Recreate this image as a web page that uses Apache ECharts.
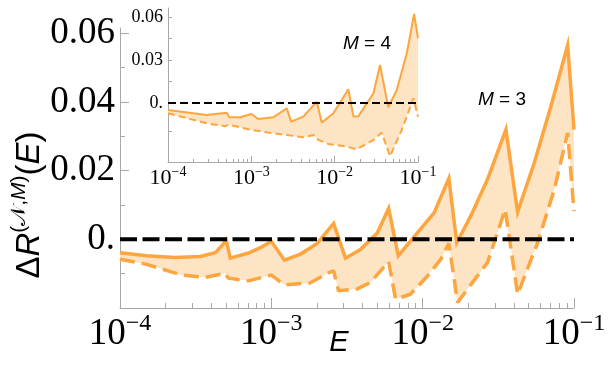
<!DOCTYPE html>
<html>
<head>
<meta charset="utf-8">
<script src="https://cdn.jsdelivr.net/npm/echarts@6/dist/echarts.min.js"></script>
<style>
html, body { margin: 0; padding: 0; background: #fff; }
#main { width: 612px; height: 365px; }
</style>
</head>
<body>
<div id="main"></div>
<script>
// main panel, M = 3 : upper (solid) and lower (dashed) bound
var mainUpperE = [1e-4, 1.5e-4, 2.3e-4, 3.4e-4, 4.26e-4, 4.71e-4, 5.03e-4, 5.35e-4, 7.07e-4, 8.67e-4, 1.0e-3,
    1.22e-3, 1.56e-3, 2.01e-3, 2.58e-3, 3.09e-3, 3.88e-3, 5.01e-3, 5.96e-3, 6.9e-3, 9.22e-3, 1.19e-2, 1.49e-2,
    1.68e-2, 2.08e-2, 2.68e-2, 3.55e-2, 4.24e-2, 5.46e-2, 7.04e-2, 9.08e-2, 1e-1];
var mainUpperV = [-0.0039, -0.0048, -0.0053, -0.0050, -0.0039, -0.0019, -0.0002, -0.0055, -0.0040, -0.0022, -0.0006,
    -0.0061, -0.0043, -0.0012, 0.0046, -0.0055, -0.0030, 0.0018, 0.0090, -0.0048, 0.0019, 0.0077, 0.0177,
    -0.0010, 0.0068, 0.0174, 0.0319, 0.0079, 0.0222, 0.0387, 0.0565, 0.0319];
var mainLowerE = [1e-4, 1.5e-4, 2.56e-4, 3.66e-4, 4.96e-4, 5.19e-4, 7.03e-4, 1e-3, 1.22e-3, 1.8e-3, 2.4e-3, 2.58e-3,
    2.78e-3, 3.67e-3, 4.5e-3, 5.96e-3, 6.62e-3, 8.3e-3, 1.08e-2, 1.32e-2, 1.49e-2, 1.7e-2, 2.08e-2, 2.68e-2, 3.51e-2,
    4.24e-2, 5.75e-2, 7.41e-2, 9.08e-2, 1e-1];
var mainLowerV = [-0.0058, -0.0073, -0.0104, -0.0111, -0.0099, -0.0113, -0.0121, -0.0104, -0.0133, -0.0127, -0.0097, -0.0092,
    -0.0150, -0.0145, -0.0126, -0.0065, -0.0174, -0.0160, -0.0106, -0.0058, -0.0012, -0.0184, -0.0132, -0.0068, 0.0087,
    -0.0160, -0.0010, 0.0145, 0.0310, 0.0082];

// inset, M = 4
var insetUpperE = [1e-4, 2.92e-4, 5.07e-4, 5.44e-4, 7.32e-4, 1.01e-3, 1.21e-3, 1.84e-3, 2.66e-3, 3.0e-3, 4.21e-3,
    6.1e-3, 7.0e-3, 9.64e-3, 1.46e-2, 1.68e-2, 1.93e-2, 2.92e-2, 3.5e-2, 4.4e-2, 5.56e-2, 7.34e-2, 8.98e-2, 1e-1];
var insetUpperV = [-0.0049, -0.0084, -0.0068, -0.0100, -0.0100, -0.0077, -0.0112, -0.0100, -0.0037, -0.0130, -0.0095,
    0.0009, -0.0137, -0.0072, 0.0096, -0.0095, -0.0092, 0.0068, 0.0265, -0.0030, 0.0091, 0.0347, 0.0621, 0.0452];
var insetLowerE = [1e-4, 2.92e-4, 4.9e-4, 5.3e-4, 1.01e-3, 1.84e-3, 2.66e-3, 4.21e-3, 5.55e-3, 6.37e-3, 8.4e-3,
    1.4e-2, 1.84e-2, 2.92e-2, 3.67e-2, 4.62e-2, 6.39e-2, 8.81e-2, 1e-1];
var insetLowerV = [-0.0072, -0.0142, -0.0162, -0.0152, -0.0188, -0.0212, -0.0223, -0.0240, -0.0223, -0.0258, -0.0286,
    -0.0305, -0.0323, -0.0258, -0.0207, -0.0372, -0.0188, 0.0033, -0.0096];

var zeroE = [1e-4, 1e-1];
var zeroV = [0, 0];

// tick values
var mainYLabels = [0, 0.02, 0.04, 0.06];
var mainYMinor = [-0.01, 0.01, 0.03, 0.05];
var insetYLabels = [0, 0.03, 0.06];
var insetYTicks = [-0.02, 0, 0.015, 0.03, 0.045, 0.06];
var decades = [-4, -3, -2];
var mantissas = [2, 3, 4, 5, 6, 7, 8, 9];

var orange = '#FDA53E';
var fill = '#FDE4C5';
var axisGrey = '#a8a8a8';

function pairs(es, vs) {
    return es.map(function (e, i) { return [e, vs[i]]; });
}
// minor tick positions in log10 space
var minorLog = [];
decades.forEach(function (d) {
    mantissas.forEach(function (m) { minorLog.push(Math.log10(m) + d); });
});

function decadeLabel(v) {
    var n = Math.round(Math.log10(v));
    return '{b|10}{s|\u2212' + Math.abs(n) + '}';
}
function yLabel(v) {
    return v === 0 ? '0.' : v.toFixed(2);
}
function band(upper, lower) {
    return function (params, api) {
        var pts = upper.map(function (p) { return api.coord(p); });
        lower.slice().reverse().forEach(function (p) { pts.push(api.coord(p)); });
        return { type: 'polygon', shape: { points: pts }, style: { fill: fill }, silent: true };
    };
}

var myChart = echarts.init(document.getElementById('main'));
var serif = '"Liberation Serif", "Times New Roman", serif';
var sans = '"Liberation Sans", Arial, sans-serif';

var option = {
    animation: false,
    backgroundColor: '#fff',
    grid: [
        { left: 120, right: 38, top: 28, bottom: 57 },
        { left: 168, right: 194, top: 8, bottom: 203 }
    ],
    xAxis: [{
        type: 'log', gridIndex: 0, min: 1e-4, max: 1e-1, position: 'bottom',
        axisLine: { onZero: false, lineStyle: { color: axisGrey, width: 1 } },
        axisTick: { inside: true, length: 10, lineStyle: { color: axisGrey } },
        splitLine: { show: false },
        axisLabel: {
            margin: 4, formatter: decadeLabel,
            rich: {
                b: { fontFamily: serif, fontSize: 37, color: '#000', lineHeight: 44 },
                s: { fontFamily: serif, fontSize: 24, color: '#000', verticalAlign: 'top', lineHeight: 24 }
            }
        }
    }, {
        type: 'value', gridIndex: 0, min: -4, max: -1, position: 'bottom',
        axisLine: { show: false, onZero: false }, axisLabel: { show: false }, splitLine: { show: false },
        axisTick: { inside: true, length: 5, customValues: minorLog, lineStyle: { color: axisGrey } }
    }, {
        type: 'log', gridIndex: 1, min: 1e-4, max: 1e-1, position: 'bottom',
        axisLine: { onZero: false, lineStyle: { color: axisGrey, width: 1 } },
        axisTick: { inside: true, length: 6, lineStyle: { color: axisGrey } },
        splitLine: { show: false },
        axisLabel: {
            margin: 3, formatter: decadeLabel,
            rich: {
                b: { fontFamily: serif, fontSize: 22, color: '#000', lineHeight: 26 },
                s: { fontFamily: serif, fontSize: 14, color: '#000', verticalAlign: 'top', lineHeight: 14 }
            }
        }
    }, {
        type: 'value', gridIndex: 1, min: -4, max: -1, position: 'bottom',
        axisLine: { show: false, onZero: false }, axisLabel: { show: false }, splitLine: { show: false },
        axisTick: { inside: true, length: 3, customValues: minorLog, lineStyle: { color: axisGrey } }
    }],
    yAxis: [{
        type: 'value', gridIndex: 0, min: -0.02, max: 0.0615, position: 'left',
        axisLine: { show: true, onZero: false, lineStyle: { color: axisGrey, width: 1 } },
        axisTick: { show: true, inside: true, length: 9, customValues: mainYLabels, lineStyle: { color: axisGrey } },
        splitLine: { show: false },
        axisLabel: { customValues: mainYLabels, formatter: yLabel, margin: 5,
            fontFamily: serif, fontSize: 37, color: '#000' }
    }, {
        type: 'value', gridIndex: 0, min: -0.02, max: 0.0615, position: 'left',
        axisLine: { show: false, onZero: false }, axisLabel: { show: false }, splitLine: { show: false },
        axisTick: { show: true, inside: true, length: 5, customValues: mainYMinor, lineStyle: { color: axisGrey } }
    }, {
        type: 'value', gridIndex: 1, min: -0.0412, max: 0.0663, position: 'left',
        axisLine: { show: true, onZero: false, lineStyle: { color: axisGrey, width: 1 } },
        axisTick: { show: true, inside: true, length: 4, customValues: insetYTicks, lineStyle: { color: axisGrey } },
        splitLine: { show: false },
        axisLabel: { customValues: insetYLabels, formatter: yLabel, margin: 5,
            fontFamily: serif, fontSize: 18, color: '#000' }
    }],
    graphic: [{
        type: 'text', x: 30, y: 205, rotation: Math.PI / 2,
        style: {
            text: '{n|\u0394}{i|R}{sp|(}{sc|\uD835\uDCA9}{sp|,}{si|M}{sp|)}{n|(}{i|E}{n|)}',
            align: 'center', verticalAlign: 'middle',
            rich: {
                n: { fontFamily: sans, fontSize: 33, fill: '#000', lineHeight: 42 },
                i: { fontFamily: sans, fontSize: 33, fontStyle: 'italic', fill: '#000', lineHeight: 42 },
                sp: { fontFamily: sans, fontSize: 21, fill: '#000', verticalAlign: 'top', lineHeight: 22 },
                sc: { fontFamily: '"DejaVu Sans", "Noto Sans", serif', fontSize: 21, fill: '#000', verticalAlign: 'top', lineHeight: 22 },
                si: { fontFamily: sans, fontSize: 21, fontStyle: 'italic', fill: '#000', verticalAlign: 'top', lineHeight: 22 }
            }
        }
    }, {
        type: 'text', x: 339, y: 343,
        style: { text: 'E', fontFamily: sans, fontSize: 29, fontStyle: 'italic', fill: '#000',
            align: 'center', verticalAlign: 'middle' }
    }, {
        type: 'text', x: 367, y: 44,
        style: {
            text: '{i|M}{n| = 4}', align: 'center', verticalAlign: 'middle',
            rich: {
                i: { fontFamily: sans, fontSize: 19, fontStyle: 'italic', fill: '#000' },
                n: { fontFamily: sans, fontSize: 19, fill: '#000' }
            }
        }
    }, {
        type: 'text', x: 502, y: 100,
        style: {
            text: '{i|M}{n| = 3}', align: 'center', verticalAlign: 'middle',
            rich: {
                i: { fontFamily: sans, fontSize: 19, fontStyle: 'italic', fill: '#000' },
                n: { fontFamily: sans, fontSize: 19, fill: '#000' }
            }
        }
    }],
    series: [{
        type: 'custom', xAxisIndex: 0, yAxisIndex: 0, z: 1, silent: true,
        renderItem: band(pairs(mainUpperE, mainUpperV), pairs(mainLowerE, mainLowerV)),
        data: [[1e-3, 0]], encode: { x: 0, y: 1 }
    }, {
        type: 'line', xAxisIndex: 0, yAxisIndex: 0, z: 3, silent: true, symbol: 'none',
        data: pairs(mainUpperE, mainUpperV),
        lineStyle: { color: orange, width: 3.5, join: 'miter' }
    }, {
        type: 'line', xAxisIndex: 0, yAxisIndex: 0, z: 3, silent: true, symbol: 'none',
        data: pairs(mainLowerE, mainLowerV),
        lineStyle: { color: orange, width: 3.5, type: [15, 7] }
    }, {
        type: 'line', xAxisIndex: 0, yAxisIndex: 0, z: 4, silent: true, symbol: 'none',
        data: pairs(zeroE, zeroV),
        lineStyle: { color: '#000', width: 4, type: [17, 5.5] }
    }, {
        type: 'custom', xAxisIndex: 2, yAxisIndex: 2, z: 1, silent: true,
        renderItem: band(pairs(insetUpperE, insetUpperV), pairs(insetLowerE, insetLowerV)),
        data: [[1e-3, 0]], encode: { x: 0, y: 1 }
    }, {
        type: 'line', xAxisIndex: 2, yAxisIndex: 2, z: 3, silent: true, symbol: 'none',
        data: pairs(insetUpperE, insetUpperV),
        lineStyle: { color: orange, width: 2 }
    }, {
        type: 'line', xAxisIndex: 2, yAxisIndex: 2, z: 3, silent: true, symbol: 'none',
        data: pairs(insetLowerE, insetLowerV),
        lineStyle: { color: orange, width: 2, type: [7, 4] }
    }, {
        type: 'line', xAxisIndex: 2, yAxisIndex: 2, z: 4, silent: true, symbol: 'none',
        data: pairs(zeroE, zeroV),
        lineStyle: { color: '#000', width: 2.2, type: [8, 4] }
    }]
};

myChart.setOption(option);
window.onresize = function () {
    myChart.resize();
};
</script>
</body>
</html>
